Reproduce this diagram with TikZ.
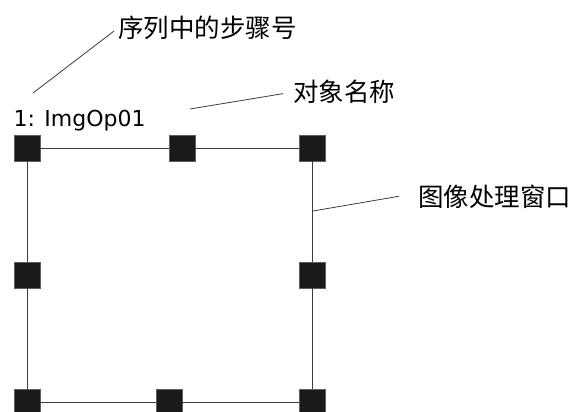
\documentclass[tikz,border=0pt]{standalone}
\usepackage{fontspec}
\newfontfamily\cjk{Noto Sans CJK SC}
\newfontfamily\latin{DejaVu Sans}
\definecolor{handlecolor}{HTML}{1A1A1A}
\definecolor{framecolor}{HTML}{3C3C3C}
\usetikzlibrary{positioning, calc}

\begin{document}
\begin{tikzpicture}[x=1pt, y=-1pt,
  handle/.style={draw=handlecolor!70, fill=handlecolor, line width=0.6pt,
    minimum size=26pt, inner sep=0pt},
  frame/.style={draw=framecolor, line width=0.9pt},
  leader/.style={draw=framecolor, line width=0.8pt},
  callout/.style={font=\cjk\fontsize{25.5}{28}\selectfont, inner sep=0pt, anchor=west},
]

\useasboundingbox (0, 0) rectangle (571, 412);

% 窗口的八个控制点
\node[handle] (tl) at (27, 148) {};
\node[handle] (tm) at (182, 148) {};
\node[handle] (tr) at (312, 148) {};
\node[handle] (ml) at (27, 275) {};
\node[handle] (mr) at (312, 275) {};
\node[handle] (bl) at (27, 402) {};
\node[handle] (bm) at (169, 402) {};
\node[handle] (br) at (312, 402) {};

% 窗口边框
\draw[frame] (tl) -- (tm) -- (tr);
\draw[frame] (tr) -- (mr) -- (br);
\draw[frame] (bl) -- (bm) -- (br);
\draw[frame] (tl) -- (ml) -- (bl);

% 标题
\node[font=\latin\fontsize{22}{24}\selectfont, inner sep=0pt, anchor=base west]
  (title) at (13.5, 127) {1: ImgOp01};

% 说明文字
\node[callout] (step) at (118, 28) {序列中的步骤号};
\node[callout] (name) at (293, 92) {对象名称};
\node[callout] (win) at (418, 197) {图像处理窗口};

% 引线
\coordinate (stepend) at (33, 93);
\coordinate (nameend) at (190, 109);
\coordinate (winend) at (313, 211);
\draw[leader, shorten >=5pt] (stepend) -- (step.west);
\draw[leader, shorten >=10pt] (nameend) -- (name.west);
\draw[leader, shorten >=19pt] (winend) -- ([yshift=4pt]win.west);

\end{tikzpicture}
\end{document}
